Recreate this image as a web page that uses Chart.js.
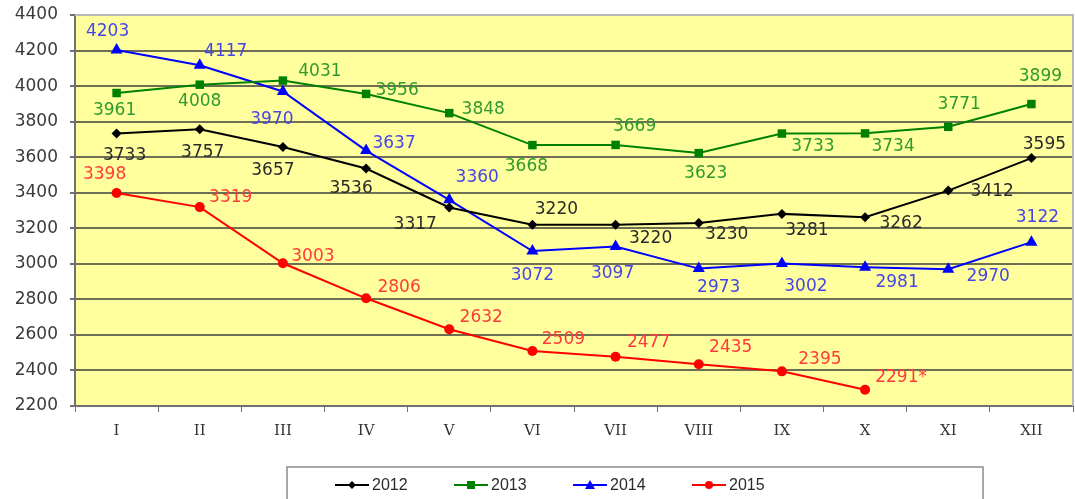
<!DOCTYPE html>
<html>
<head>
<meta charset="utf-8">
<script src="https://cdn.jsdelivr.net/npm/chart.js@4"></script>
<style>
  html, body { margin: 0; padding: 0; background: #fff; }
  #wrap { width: 1075px; height: 499px; position: relative; }
</style>
</head>
<body>
<div id="wrap"><canvas id="linechart"></canvas></div>
<script>
// data
var months = ['I', 'II', 'III', 'IV', 'V', 'VI', 'VII', 'VIII', 'IX', 'X', 'XI', 'XII'];
var years = ['2012', '2013', '2014', '2015'];
var v2012 = [3733, 3757, 3657, 3536, 3317, 3220, 3220, 3230, 3281, 3262, 3412, 3595];
var v2013 = [3961, 4008, 4031, 3956, 3848, 3668, 3669, 3623, 3733, 3734, 3771, 3899];
var v2014 = [4203, 4117, 3970, 3637, 3360, 3072, 3097, 2973, 3002, 2981, 2970, 3122];
var v2015 = [3398, 3319, 3003, 2806, 2632, 2509, 2477, 2435, 2395, 2291, null, null];
var note2015 = ['', '', '', '', '', '', '', '', '', '*', '', ''];
var yTicks = [2200, 2400, 2600, 2800, 3000, 3200, 3400, 3600, 3800, 4000, 4200, 4400];

// where each value label sits relative to its point (px)
var off2012 = [[8,22],[3,23],[-10,24],[-15,20],[-34,17],[24,-15],[35,14],[28,12],[25,17],[36,6],[44,1],[13,-13]];
var off2013 = [[-2,18],[0,17],[37,-9],[31,-3],[34,-4],[-6,21],[19,-18],[7,20],[31,13],[28,13],[11,-22],[9,-27]];
var off2014 = [[-9,-18],[26,-14],[-11,28],[28,-7],[28,-22],[0,25],[-3,27],[20,19],[24,23],[32,15],[40,7],[6,-25]];
var off2015 = [[-12,-19],[31,-10],[30,-7],[33,-11],[32,-12],[31,-12],[33,-14],[32,-17],[38,-12],[36,-12]];

var ctx = document.getElementById('linechart');

var plotBg = {
  id: 'plotBg',
  beforeDraw: function (chart) {
    var a = chart.chartArea, c = chart.ctx;
    c.save();
    c.fillStyle = '#ffff9e';
    c.fillRect(a.left, a.top, a.right - a.left, a.bottom - a.top);
    c.restore();
  },
  afterDraw: function (chart) {
    var a = chart.chartArea, c = chart.ctx;
    c.save();
    // light frame top/right
    c.strokeStyle = '#b8b8b8';
    c.lineWidth = 2;
    c.beginPath();
    c.moveTo(a.left, a.top);
    c.lineTo(a.right, a.top);
    c.lineTo(a.right, a.bottom);
    c.stroke();
    // legend box
    c.strokeStyle = '#8c8c8c';
    c.lineWidth = 1.5;
    c.strokeRect(287, 467, 696, 60);
    var items = chart.data.datasets;
    var xs = [335, 454, 573, 692];
    c.font = '16px "Liberation Sans"';
    c.textBaseline = 'middle';
    c.textAlign = 'left';
    for (var i = 0; i < items.length; i++) {
      var d = items[i], x = xs[i], y = 485;
      c.strokeStyle = d.borderColor;
      c.lineWidth = 2;
      c.beginPath();
      c.moveTo(x, y);
      c.lineTo(x + 34, y);
      c.stroke();
      c.fillStyle = d.borderColor;
      var m = x + 17;
      c.beginPath();
      if (d.pointStyle === 'rectRot') {
        c.moveTo(m, y - 4); c.lineTo(m + 4, y); c.lineTo(m, y + 4); c.lineTo(m - 4, y);
      } else if (d.pointStyle === 'rect') {
        c.rect(m - 4, y - 4, 8, 8);
      } else if (d.pointStyle === 'triangle') {
        c.moveTo(m, y - 5); c.lineTo(m + 5, y + 4); c.lineTo(m - 5, y + 4);
      } else {
        c.arc(m, y, 4, 0, Math.PI * 2);
      }
      c.closePath();
      c.fill();
      c.fillStyle = '#2a2a2a';
      c.fillText(d.label, x + 37, y + 1);
    }
    c.restore();
  }
};

var valueLabels = {
  id: 'valueLabels',
  afterDatasetsDraw: function (chart) {
    var c = chart.ctx;
    c.save();
    c.font = '17px "DejaVu Sans"';
    c.textAlign = 'center';
    c.textBaseline = 'middle';
    chart.data.datasets.forEach(function (d, i) {
      var meta = chart.getDatasetMeta(i);
      meta.data.forEach(function (pt, j) {
        var v = d.data[j];
        if (v === null || v === undefined) return;
        var o = d.offsets[j];
        c.fillStyle = d.labelColor;
        c.fillText(String(v) + (d.notes ? d.notes[j] : ''), pt.x + o[0], pt.y + o[1]);
      });
    });
    c.restore();
  }
};

new Chart(ctx, {
  type: 'line',
  data: {
    labels: months,
    datasets: [
      { label: years[0], data: v2012, borderColor: '#000000', backgroundColor: '#000000',
        pointStyle: 'rectRot', pointRadius: 5, labelColor: '#2a2a2a', offsets: off2012 },
      { label: years[1], data: v2013, borderColor: '#008000', backgroundColor: '#008000',
        pointStyle: 'rect', pointRadius: 6, labelColor: '#2f9a2f', offsets: off2013 },
      { label: years[2], data: v2014, borderColor: '#0000ff', backgroundColor: '#0000ff',
        pointStyle: 'triangle', pointRadius: 7, labelColor: '#4646e6', offsets: off2014 },
      { label: years[3], data: v2015, borderColor: '#ff0000', backgroundColor: '#ff0000',
        pointStyle: 'circle', pointRadius: 5, labelColor: '#ff3b3b', offsets: off2015, notes: note2015 }
    ]
  },
  options: {
    responsive: true,
    maintainAspectRatio: false,
    animation: false,
    layout: { autoPadding: false, padding: { top: 15, right: 2, left: 0, bottom: 0 } },
    elements: {
      line: { borderWidth: 2, tension: 0 },
      point: { borderWidth: 0, hoverRadius: 6 }
    },
    plugins: {
      legend: { display: false },
      tooltip: { enabled: false }
    },
    scales: {
      x: {
        offset: true,
        afterFit: function (s) { s.height = 93; s.paddingLeft = 0; s.paddingRight = 0; },
        grid: { drawOnChartArea: false, drawTicks: true, tickLength: 6, color: '#707070', offset: true },
        border: { color: '#707070', width: 2 },
        ticks: { color: '#333', font: { family: '"DejaVu Serif"', size: 15 }, padding: 10, maxRotation: 0 }
      },
      y: {
        min: 2200,
        max: 4400,
        afterFit: function (s) { s.width = 75; s.paddingTop = 0; s.paddingBottom = 0; },
        afterBuildTicks: function (s) { s.ticks = yTicks.map(function (v) { return { value: v }; }); },
        grid: { color: '#6e6e55', lineWidth: 2, tickLength: 5, tickColor: '#707070' },
        border: { color: '#707070', width: 2 },
        ticks: {
          color: '#3a3a3a', font: { family: '"DejaVu Sans"', size: 17 }, padding: 12,
          callback: function (v) { return String(v); }
        }
      }
    }
  },
  plugins: [plotBg, valueLabels]
});
</script>
</body>
</html>
